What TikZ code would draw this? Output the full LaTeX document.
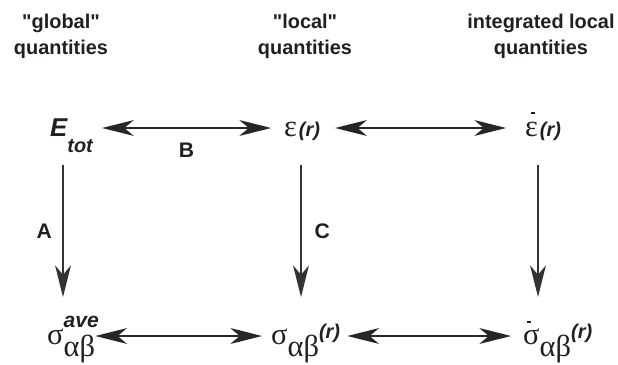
\documentclass[tikz,border=0pt]{standalone}
\usepackage{fontspec}
\setmainfont{Liberation Sans}
\newfontfamily\grkfont{Liberation Serif}
\usetikzlibrary{arrows.meta,calc,positioning}
\definecolor{inkgray}{HTML}{231F20}
\newcommand{\hdsize}{\fontsize{17}{22}\selectfont\bfseries}
\newcommand{\gk}[1]{{\grkfont\fontsize{26}{26}\selectfont #1}}
\newcommand{\bisub}[2]{{\fontsize{#1}{#1}\selectfont\bfseries\itshape #2}}
\newcommand{\qbar}[2]{\rlap{\hspace{#1}\raisebox{#2}{\rule{3.5pt}{1.6pt}}}}
\tikzset{
    qty head/.style={
        align=center,
        font=\hdsize,
        text=inkgray,
        inner sep=0pt
    },
    qty sym/.style={
        anchor=base west,
        inner sep=0pt,
        text=inkgray
    },
    map tag/.style={
        font=\fontsize{18}{18}\selectfont\bfseries,
        text=inkgray,
        inner sep=0pt
    },
    map arrow/.style={
        -{Stealth[length=27pt,width=13.5pt,inset=8pt]},
        line width=1.2pt,
        draw=black!80
    },
    pair arrow/.style={
        {Stealth[length=27pt,width=13.5pt,inset=8pt]}-{Stealth[length=27pt,width=13.5pt,inset=8pt]},
        line width=1.2pt,
        draw=black!85
    }
}
\begin{document}
\begin{tikzpicture}[x=0.03cm,y=-0.03cm]
    \useasboundingbox (0,0) rectangle (618,364);

    % column headings
    \node[qty head] (hglobal) at (61,36) {\textquotedbl global\textquotedbl\\quantities};
    \node[qty head] (hlocal) at (305,36) {\textquotedbl local\textquotedbl\\quantities};
    \node[qty head] (hinteg) at (541,36) {integrated local\\quantities};

    % top row
    \node[qty sym] (etot) at (50,136)
        {\bisub{22}{E}\raisebox{-14pt}{\bisub{17}{tot}}};
    \node[qty sym] (eps) at (284,136)
        {\gk{ε}\,\bisub{17}{(r)}};
    \node[qty sym] (epsbar) at (525,136)
        {\qbar{5pt}{19pt}\gk{ε}\,\bisub{17}{(r)}};

    % bottom row
    \node[qty sym] (sigave) at (47,344)
        {\gk{σ}\rlap{\raisebox{14pt}{\bisub{18}{ave}}}\raisebox{-11pt}{\gk{αβ}}};
    \node[qty sym] (sigloc) at (271,344)
        {\gk{σ}\raisebox{-11pt}{\gk{αβ}}\raisebox{5pt}{\bisub{17}{(r)}}};
    \node[qty sym] (sigbar) at (523,344)
        {\qbar{3pt}{18pt}\gk{σ}\raisebox{-11pt}{\gk{αβ}}\raisebox{5pt}{\bisub{17}{(r)}}};

    % horizontal pairs
    \draw[pair arrow]
        ($(etot.base east)+(9,-8)$) --
        node[map tag, below=12pt] (tagB) {B}
        ($(eps.base west)+(-13,-8)$);
    \draw[pair arrow]
        ($(eps.base east)+(15,-8)$) --
        ($(epsbar.base west)+(-19,-8)$);
    \draw[pair arrow]
        ($(sigave.base east)+(0,-8)$) --
        ($(sigloc.base west)+(-9,-8)$);
    \draw[pair arrow]
        ($(sigloc.base east)+(7,-8)$) --
        ($(sigbar.base west)+(-12,-8)$);

    % vertical maps
    \draw[map arrow]
        ($(etot.base west)+(13,29)$) --
        node[map tag, left=9pt] (tagA) {A}
        ($(sigave.base west)+(16,-47)$);
    \draw[map arrow]
        ($(eps.base west)+(17,29)$) --
        node[map tag, right=11pt] (tagC) {C}
        ($(sigloc.base west)+(30,-47)$);
    \draw[map arrow]
        ($(epsbar.base west)+(13,29)$) --
        ($(sigbar.base west)+(15,-47)$);
\end{tikzpicture}
\end{document}
